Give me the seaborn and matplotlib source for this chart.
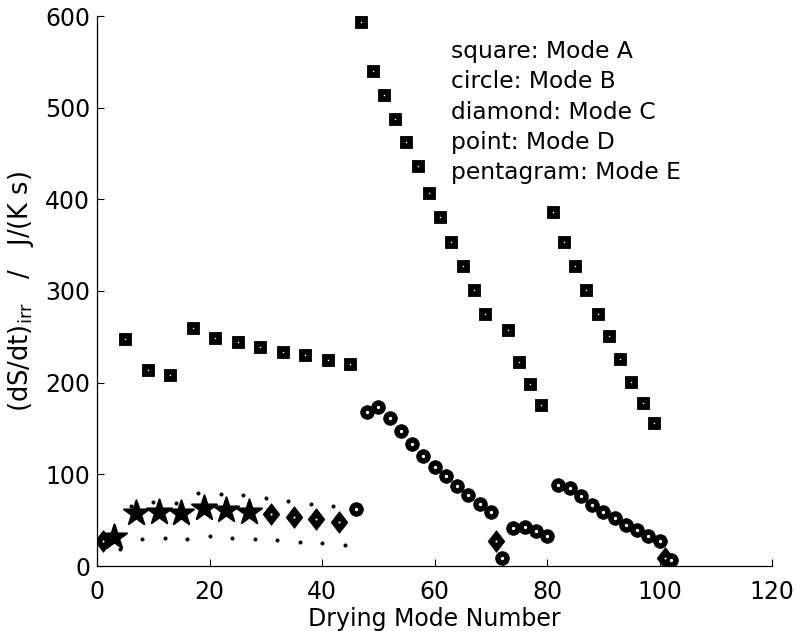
import matplotlib
matplotlib.use("Agg")
import matplotlib.pyplot as plt
import seaborn as sns
import pandas as pd

# Drying modes: entropy production rate per drying mode number
mode_a_x = [5, 9, 13, 17, 21, 25, 29, 33, 37, 41, 45,
            47, 49, 51, 53, 55, 57, 59, 61, 63, 65, 67, 69, 73, 75, 77, 79,
            81, 83, 85, 87, 89, 91, 93, 95, 97, 99]
mode_a_y = [248, 214, 208, 260, 249, 244, 239, 234, 230, 225, 220,
            594, 540, 514, 488, 462, 436, 407, 381, 354, 327, 301, 275, 258, 223, 199, 176,
            386, 354, 327, 301, 275, 251, 226, 201, 178, 156]

mode_b_x = [46, 48, 50, 52, 54, 56, 58, 60, 62, 64, 66, 68, 70, 72,
            74, 76, 78, 80, 82, 84, 86, 88, 90, 92, 94, 96, 98, 100, 102]
mode_b_y = [62, 168, 174, 161, 147, 133, 120, 108, 98, 87, 77, 68, 59, 9,
            41, 43, 38, 33, 88, 85, 76, 67, 59, 52, 45, 39, 33, 27, 7]

mode_c_x = [1, 31, 35, 39, 43, 71, 101]
mode_c_y = [27, 57, 54, 51, 48, 27, 9]

mode_d_x = [4, 6, 8, 10, 12, 14, 16, 18, 20, 22, 24, 26, 28, 30, 32, 34, 36, 38, 40, 42, 44]
mode_d_y = [19, 66, 30, 70, 31, 69, 30, 80, 33, 79, 31, 77, 30, 74, 28, 71, 26, 68, 25, 66, 23]

mode_e_x = [3, 7, 11, 15, 19, 23, 27]
mode_e_y = [32, 58, 59, 58, 63, 61, 59]

legend_lines = ["square: Mode A", "circle: Mode B", "diamond: Mode C",
                "point: Mode D", "pentagram: Mode E"]

sns.set_style("ticks")
plt.rcParams["font.family"] = ["DejaVu Sans"]
plt.rcParams["text.color"] = "black"
plt.rcParams["axes.labelcolor"] = "black"
plt.rcParams["xtick.color"] = "black"
plt.rcParams["ytick.color"] = "black"

fig = plt.figure(figsize=(7.96, 6.31), dpi=100)
ax = fig.add_axes([97 / 796, 1 - 566 / 631, (772 - 97) / 796, (566 - 16) / 631])

tall_diamond = [(0, 1), (0.77, 0), (0, -1), (-0.77, 0), (0, 1)]

def draw(xs, ys, marker, size, hole=None, lw=0.6):
    df = pd.DataFrame({"x": xs, "y": ys})
    sns.scatterplot(data=df, x="x", y="y", marker=marker, s=size ** 2,
                    color="black", edgecolor="black", linewidth=lw,
                    ax=ax, legend=False, zorder=3)
    if hole:
        sns.scatterplot(data=df, x="x", y="y", marker="o", s=hole ** 2,
                        color="white", linewidth=0, ax=ax, legend=False, zorder=4)

draw(mode_d_x, mode_d_y, "o", 2.3)
draw(mode_e_x, mode_e_y, "*", 19, lw=1.4)
draw(mode_c_x, mode_c_y, tall_diamond, 15.5, hole=1.5)
draw(mode_a_x, mode_a_y, "s", 9.2, hole=1.1)
draw(mode_b_x, mode_b_y, "o", 9.8, hole=2.4)

for i, line in enumerate(legend_lines):
    ax.text(63, 554 - 33 * i, line, fontsize=16.8, va="baseline", ha="left")

ax.set_xlim(0, 120)
ax.set_ylim(0, 600)
ax.set_xticks([0, 20, 40, 60, 80, 100, 120])
ax.set_yticks([0, 100, 200, 300, 400, 500, 600])
ax.tick_params(direction="in", length=5, width=0.8, labelsize=17, colors="black")
ax.tick_params(axis="x", pad=10)
ax.tick_params(axis="y", pad=5)
for side in ("top", "right"):
    ax.spines[side].set_visible(False)
for side in ("left", "bottom"):
    ax.spines[side].set_color("black")
    ax.spines[side].set_linewidth(0.9)

ax.set_xlabel("Drying Mode Number", fontsize=17, labelpad=2)
ax.set_ylabel(r"(dS/dt)$_{\mathregular{irr}}$   /   J/(K s)", fontsize=18.5, labelpad=6)

fig.savefig("out.png", dpi=100)
